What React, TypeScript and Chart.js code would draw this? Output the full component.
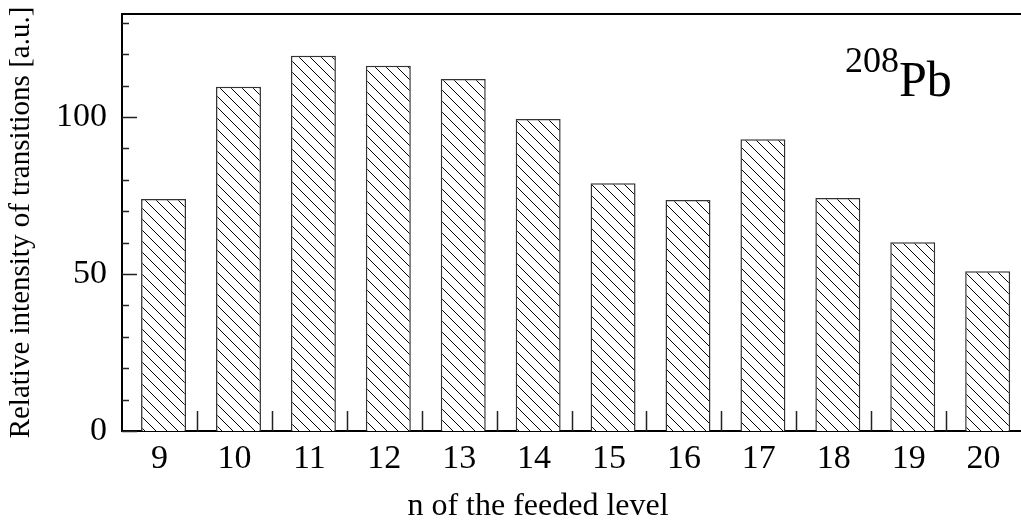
import React, { useEffect, useRef } from "react";
import { Chart, registerables } from "chart.js";

Chart.register(...registerables);

const categories = ["9", "10", "11", "12", "13", "14", "15", "16", "17", "18", "19", "20"];
const intensities = [73.9, 109.6, 119.5, 116.3, 112.1, 99.4, 78.9, 73.6, 92.9, 74.2, 60.1, 50.9];
const yMajorLabels = [0, 50, 100];
const xTitle = "n of the feeded level";
const yTitle = "Relative intensity of transitions [a.u.]";
const isotopeMass = "208";
const isotopeSymbol = "Pb";

const FONT = "'Liberation Serif', 'DejaVu Serif', serif";
const BAR_SHIFT = 0.055; // bars sit slightly right of the category centres

function makeHatch(): CanvasPattern | string {
  const size = 11;
  const c = document.createElement("canvas");
  c.width = size;
  c.height = size;
  const g = c.getContext("2d");
  if (!g) return "#fff";
  g.fillStyle = "#fff";
  g.fillRect(0, 0, size, size);
  g.strokeStyle = "#000";
  g.lineWidth = 1;
  g.beginPath();
  for (const k of [-size, 0, size]) {
    g.moveTo(k, 0);
    g.lineTo(k + size, size);
  }
  g.stroke();
  const p = g.createPattern(c, "repeat");
  return p || "#fff";
}

const framePlugin = {
  id: "frame",
  afterDraw(chart: any) {
    const { ctx, chartArea, scales } = chart;
    const x = scales.x;
    const y = scales.y;
    ctx.save();
    ctx.strokeStyle = "#000";
    // top frame line
    ctx.lineWidth = 2;
    ctx.beginPath();
    ctx.moveTo(chartArea.left - 1, chartArea.top);
    ctx.lineTo(chartArea.right, chartArea.top);
    ctx.stroke();
    // y inner ticks
    ctx.lineWidth = 1.5;
    ctx.strokeStyle = "#222";
    ctx.beginPath();
    for (const t of y.ticks) {
      const py = Math.round(y.getPixelForValue(t.value)) + 0.5;
      const major = yMajorLabels.includes(t.value);
      const len = major ? 15 : 7;
      ctx.moveTo(chartArea.left, py);
      ctx.lineTo(chartArea.left + len, py);
    }
    ctx.stroke();
    // x inner ticks at category boundaries
    ctx.beginPath();
    for (let i = 1; i < categories.length; i++) {
      const px = Math.round((x.getPixelForValue(i - 1) + x.getPixelForValue(i)) / 2) + 0.5;
      ctx.moveTo(px, chartArea.bottom);
      ctx.lineTo(px, chartArea.bottom - 20);
    }
    ctx.stroke();
    ctx.fillStyle = "#000";
    // x axis title
    ctx.font = `32px ${FONT}`;
    ctx.textAlign = "center";
    ctx.textBaseline = "alphabetic";
    ctx.fillText(xTitle, chartArea.left + 416, 515);
    // isotope label
    ctx.textAlign = "left";
    ctx.font = `36px ${FONT}`;
    const mx = chartArea.right - 176;
    ctx.fillText(isotopeMass, mx, 72);
    const w = ctx.measureText(isotopeMass).width;
    ctx.font = `50px ${FONT}`;
    ctx.fillText(isotopeSymbol, mx + w, 96);
    ctx.restore();
  },
};

export default function App() {
  const ref = useRef<HTMLCanvasElement | null>(null);
  useEffect(() => {
    if (!ref.current) return;
    const hatch = makeHatch();
    const chart = new Chart(ref.current, {
      type: "bar",
      data: {
        labels: categories,
        datasets: [
          {
            data: intensities.map((v, i) => ({ x: i, y: v })),
            xAxisID: "xb",
            backgroundColor: hatch as any,
            borderColor: "#333",
            borderWidth: 1.5,
            barPercentage: 0.6,
            categoryPercentage: 1,
          },
        ],
      },
      options: {
        animation: false,
        responsive: true,
        maintainAspectRatio: false,
        layout: { padding: { top: 14, right: 0, left: 0, bottom: 0 } },
        plugins: { legend: { display: false }, tooltip: { enabled: false } },
        scales: {
          xb: {
            type: "linear",
            display: false,
            offset: false,
            bounds: "data",
            grid: { offset: false },
            min: -0.5 - BAR_SHIFT,
            max: categories.length - 0.5 - BAR_SHIFT,
          },
          x: {
            type: "category",
            offset: true,
            grid: { display: false, drawTicks: false },
            border: { display: true, color: "#000", width: 2 },
            ticks: {
              color: "#000",
              font: { family: FONT, size: 34 },
              padding: 8,
              autoSkip: false,
              maxRotation: 0,
              minRotation: 0,
            },
            title: { display: false },
            afterFit(scale: any) {
              scale.height = 94;
              scale.paddingLeft = 0;
              scale.paddingRight = 0;
            },
          },
          y: {
            min: 0,
            max: 132.8,
            grid: { display: false, drawTicks: false },
            border: { display: true, color: "#000", width: 2 },
            ticks: {
              stepSize: 10,
              includeBounds: false,
              autoSkip: false,
              color: "#000",
              font: { family: FONT, size: 34 },
              padding: 15,
              callback: (v: any) => (yMajorLabels.includes(Number(v)) ? String(v) : ""),
            },
            title: {
              display: true,
              text: yTitle,
              color: "#000",
              font: { family: FONT, size: 29 },
              padding: { top: 4, bottom: 0 },
            },
            afterFit(scale: any) {
              scale.width = 122;
              scale.paddingTop = 0;
              scale.paddingBottom = 0;
            },
          },
        },
      },
      plugins: [framePlugin],
    });
    return () => chart.destroy();
  }, []);
  return (
    <div style={{ position: "absolute", left: 0, top: 0, width: 1021, height: 525, background: "#fff" }}>
      <canvas ref={ref} />
    </div>
  );
}
